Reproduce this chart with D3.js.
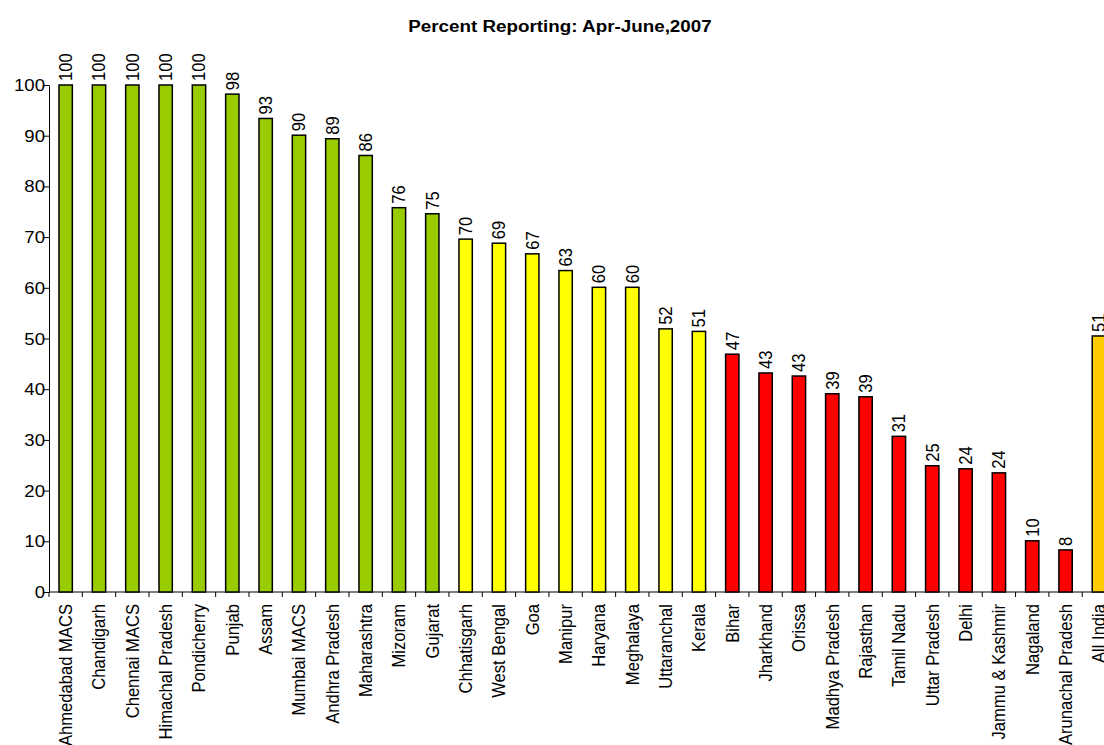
<!DOCTYPE html>
<html>
<head>
<meta charset="utf-8">
<script src="https://cdn.jsdelivr.net/npm/d3@7"></script>
<style>
body { margin: 0; background: #fff; }
svg { display: block; font-family: "Liberation Sans", Arial, sans-serif; }
</style>
</head>
<body>
<div id="chart"></div>
<script>
const states = ["Ahmedabad MACS", "Chandigarh", "Chennai MACS", "Himachal Pradesh", "Pondicherry",
	"Punjab", "Assam", "Mumbai MACS", "Andhra Pradesh", "Maharashtra", "Mizoram", "Gujarat",
	"Chhatisgarh", "West Bengal", "Goa", "Manipur", "Haryana", "Meghalaya", "Uttaranchal", "Kerala",
	"Bihar", "Jharkhand", "Orissa", "Madhya Pradesh", "Rajasthan", "Tamil Nadu", "Uttar Pradesh",
	"Delhi", "Jammu & Kashmir", "Nagaland", "Arunachal Pradesh", "All India"];
const percent = [100, 100, 100, 100, 100, 98.2, 93.4, 90.1, 89.4, 86.1, 75.8, 74.6,
	69.6, 68.8, 66.7, 63.4, 60.1, 60.1, 51.9, 51.4,
	46.9, 43.2, 42.6, 39.1, 38.5, 30.7, 24.9, 24.3, 23.5, 10.1, 8.3, 50.5];
const groups = ["g", "g", "g", "g", "g", "g", "g", "g", "g", "g", "g", "g",
	"y", "y", "y", "y", "y", "y", "y", "y",
	"r", "r", "r", "r", "r", "r", "r", "r", "r", "r", "r", "a"];
const yTicks = [0, 10, 20, 30, 40, 50, 60, 70, 80, 90, 100];
const title = "Percent Reporting: Apr-June,2007";

const W = 1104, H = 745;
const marge = {dalt: 85, esquerra: 49, baix: 153};
const bandW = 33.33;
const estirar = 1.12;   // the source picture is a little stretched sideways
const mida = 16.6;

const svg = d3.select("#chart").append("svg")
	.attr("width", W)
	.attr("height", H);

// the plot area runs past the right edge, as in the source image
const x = d3.scaleBand()
	.domain(states)
	.range([marge.esquerra, marge.esquerra + states.length * bandW])
	.paddingInner(0.6)
	.paddingOuter(0.3);

const y = d3.scaleLinear()
	.domain([0, 100])
	.range([H - marge.baix, marge.dalt]);

const color = d3.scaleOrdinal()
	.domain(["g", "y", "r", "a"])
	.range(["#99CC00", "#FFFF00", "#FF0000", "#FFCC00"]);

const dades = states.map((s, i) => ({nom: s, v: percent[i], g: groups[i]}));

// title
svg.append("text")
	.attr("transform", `translate(560,32) scale(${estirar},1)`)
	.attr("text-anchor", "middle")
	.attr("font-weight", "bold")
	.attr("font-size", 16.8)
	.text(title);

// y axis
const yAxis = svg.append("g")
	.attr("transform", `translate(${marge.esquerra},0)`)
	.call(d3.axisLeft(y).tickValues(yTicks).tickSize(6).tickSizeOuter(0).tickFormat(""));
yAxis.select(".domain").attr("stroke", "#000");
yAxis.selectAll(".tick line").attr("stroke", "#000");

svg.append("g")
	.selectAll("text")
	.data(yTicks)
	.enter()
	.append("text")
		.attr("transform", d => `translate(${marge.esquerra - 4},${y(d) + 6}) scale(${estirar},1)`)
		.attr("text-anchor", "end")
		.attr("font-size", mida)
		.text(d => d);

// x axis line and ticks at band boundaries
const base = y(0);
svg.append("line")
	.attr("x1", marge.esquerra).attr("x2", W)
	.attr("y1", base).attr("y2", base)
	.attr("stroke", "#000");
svg.append("g")
	.selectAll("line")
	.data(d3.range(states.length + 1))
	.enter()
	.append("line")
		.attr("x1", i => marge.esquerra + i * x.step())
		.attr("x2", i => marge.esquerra + i * x.step())
		.attr("y1", base)
		.attr("y2", base + 5)
		.attr("stroke", "#000");

// bars
svg.append("g")
	.selectAll("rect")
	.data(dades)
	.enter()
	.append("rect")
		.attr("x", d => x(d.nom))
		.attr("y", d => y(d.v))
		.attr("width", x.bandwidth())
		.attr("height", d => base - y(d.v))
		.attr("fill", d => color(d.g))
		.attr("stroke", "#000")
		.attr("stroke-width", 1.5);

// value labels
svg.append("g")
	.selectAll("text")
	.data(dades)
	.enter()
	.append("text")
		.attr("transform", d => `translate(${x(d.nom) + x.bandwidth() / 2 + 6.5},${y(d.v) - 4}) scale(${estirar},1) rotate(-90)`)
		.attr("font-size", mida)
		.text(d => Math.round(d.v));

// category labels
svg.append("g")
	.selectAll("text")
	.data(dades)
	.enter()
	.append("text")
		.attr("transform", d => `translate(${x(d.nom) + x.bandwidth() / 2 + 6.5},${base + 12}) scale(${estirar},1) rotate(-90)`)
		.attr("text-anchor", "end")
		.attr("font-size", mida)
		.text(d => d.nom);
</script>
</body>
</html>
